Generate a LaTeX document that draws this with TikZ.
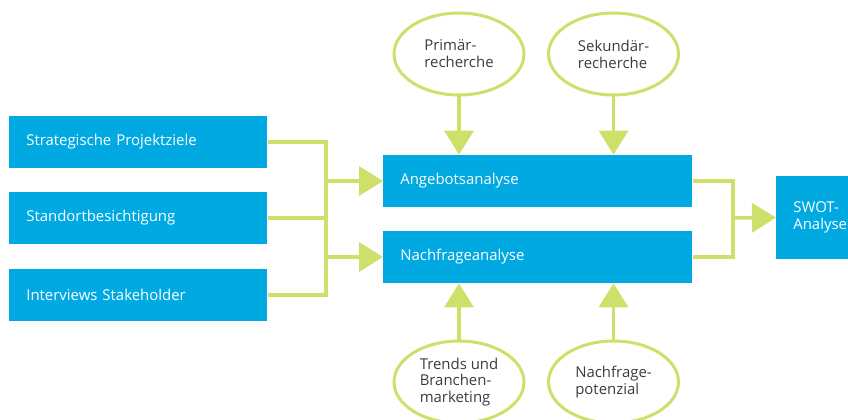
\documentclass[tikz,border=0pt]{standalone}
\usepackage{fontspec}
\setmainfont{Open Sans}
\definecolor{box_c}{RGB}{0,169,226}
\definecolor{link_c}{RGB}{206,223,106}
\definecolor{txt_c}{RGB}{60,60,60}
\usetikzlibrary{arrows.meta,
                positioning,
                shapes.geometric}

\begin{document}
\begin{tikzpicture}[
			x=0.02cm, y=-0.02cm,
			font=\fontsize{8.5}{9.6}\selectfont,
			box/.style = {rectangle, fill=box_c, text=white, minimum height=1.04cm, inner xsep=0.34cm, align=left, anchor=west},
			src/.style = {ellipse, draw=link_c, line width=1.7pt, minimum width=2.6cm, minimum height=1.64cm, inner sep=0pt, text=txt_c, align=left},
			link/.style = {draw=link_c, line width=2pt},
			arr/.style = {link, -{Triangle[length=0.48cm, width=0.58cm]}},
			]
			\useasboundingbox (0,0) rectangle (848,419);
			% boxes
			\node[box, text width=4.48cm] (ziele) at (9,142) {Strategische Projektziele};
			\node[box, text width=4.48cm] (stand) at (9,218) {Standortbesichtigung};
			\node[box, text width=4.48cm] (inter) at (9,295) {Interviews Stakeholder};
			\node[box, text width=5.5cm] (ang) at (383,181) {Angebotsanalyse};
			\node[box, text width=5.5cm] (nach) at (383,257) {Nachfrageanalyse};
			\node[box, minimum width=1.44cm, minimum height=1.66cm, inner sep=0pt] (swot) at (776,217.5) {};
			\node[anchor=west, inner sep=0pt, text=white, align=left] (swottxt) at ([xshift=0.34cm]swot.west) {SWOT-\\Analyse};
			% circles
			\node[src] (prim) at (459,54) {Primär-\\recherche};
			\node[src] (sek) at (613.5,54) {Sekundär-\\recherche};
			\node[src] (trend) at (459,382) {Trends und\\Branchen-\\marketing};
			\node[src] (pot) at (613.5,382) {Nachfrage-\\potenzial};
			% joints
			\coordinate (jl) at (326,218);
			\coordinate (jr) at (733,218);
			% edges
			\draw[link] (ziele.east) -| (jl |- inter.east) -- (inter.east);
			\draw[link] (stand.east) -- (stand.east -| jl);
			\draw[arr] (jl |- ang.west) -- (ang.west);
			\draw[arr] (jl |- nach.west) -- (nach.west);
			\draw[link] (ang.east) -| (jr |- nach.east) -- (nach.east);
			\draw[arr] (jr) -- (swot.west);
			\draw[arr] (prim) -- (prim |- ang.north);
			\draw[arr] (sek) -- (sek |- ang.north);
			\draw[arr] (trend) -- (trend |- nach.south);
			\draw[arr] (pot) -- (pot |- nach.south);
\end{tikzpicture}
\end{document}
